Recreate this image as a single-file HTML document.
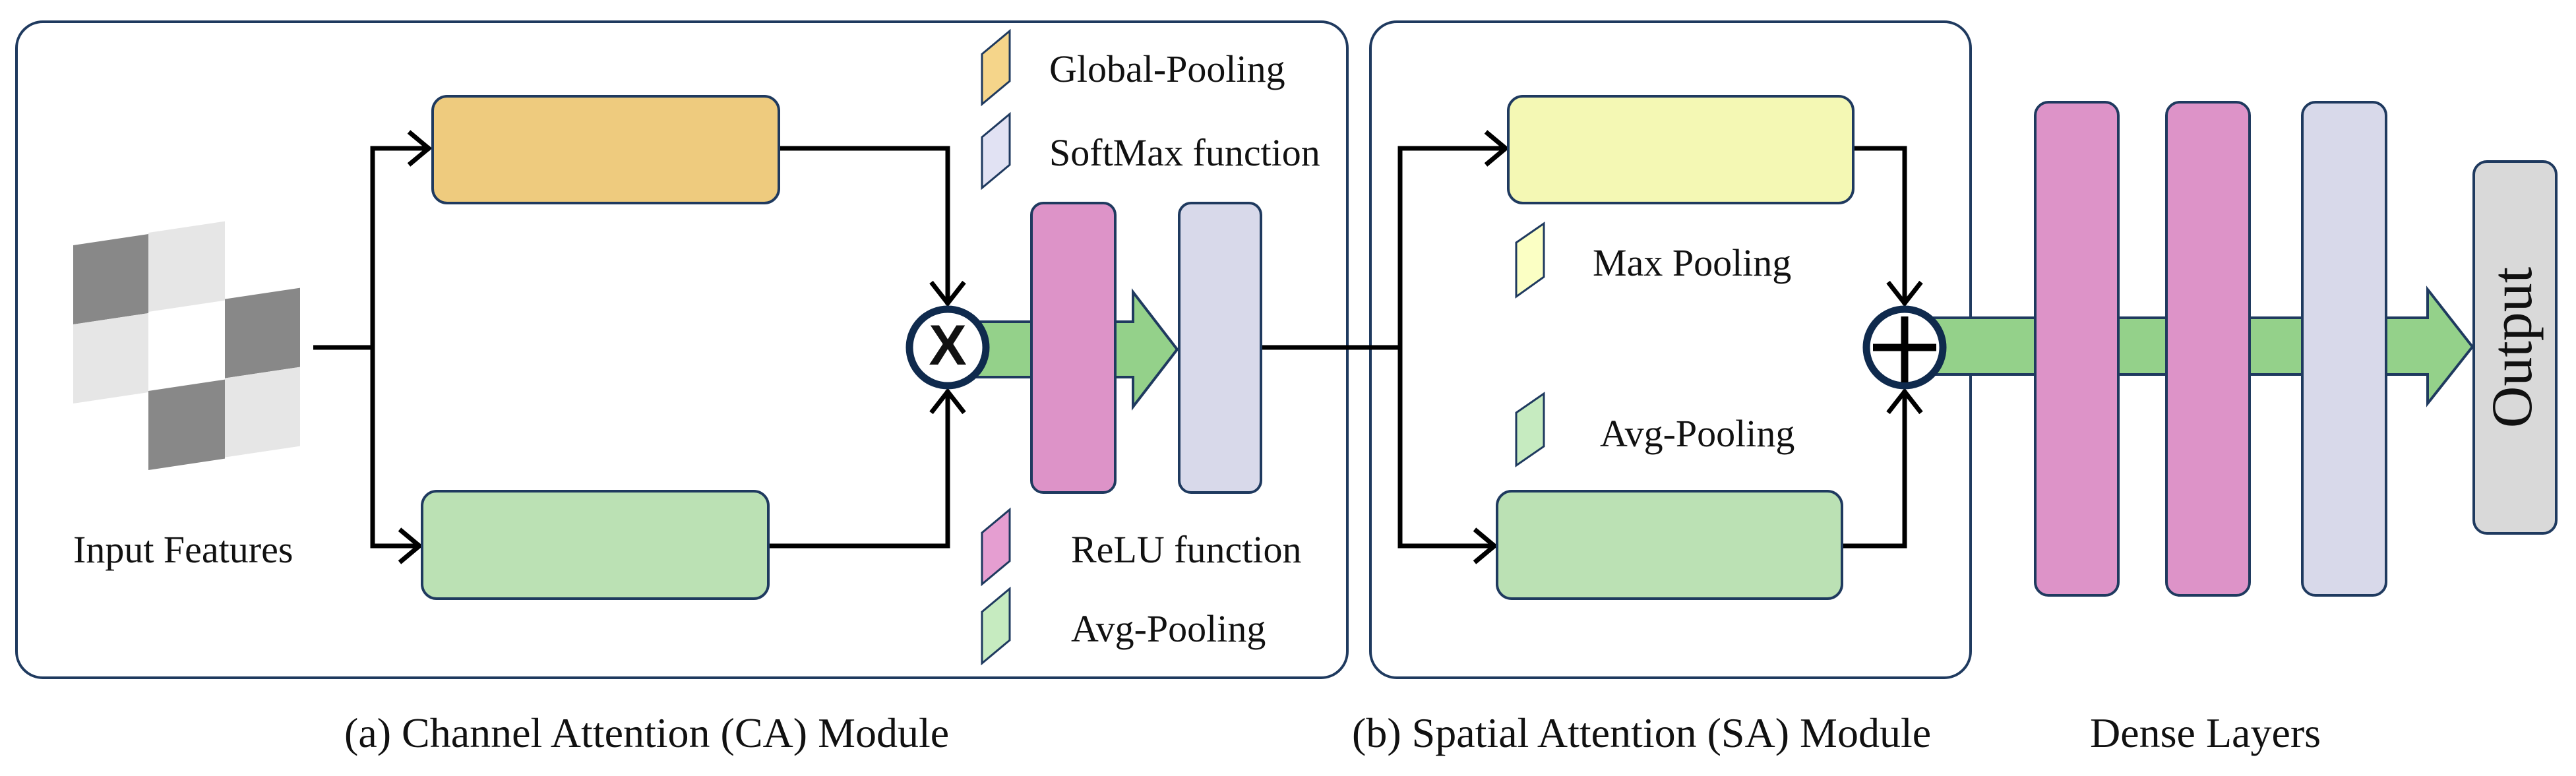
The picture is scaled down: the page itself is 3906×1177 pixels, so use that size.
<!DOCTYPE html>
<html><head><meta charset="utf-8"><style>
html,body{margin:0;padding:0;background:#fff;}
svg{display:block;}
text{font-family:"Liberation Serif",serif;fill:#111;}
</style></head><body>
<svg width="3906" height="1177" viewBox="0 0 3906 1177" xmlns="http://www.w3.org/2000/svg">
<!-- module boxes -->
<rect x="25" y="33" width="2018" height="995" rx="40" fill="#fff" stroke="#1f3a5f" stroke-width="4"/>
<rect x="2078" y="33" width="910" height="995" rx="40" fill="#fff" stroke="#1f3a5f" stroke-width="4"/>

<!-- checkerboard -->
<g transform="translate(111,0) skewY(-8.5) translate(-111,0)">
<rect x="111" y="372" width="114" height="120" fill="#888"/>
<rect x="111" y="492" width="114" height="120" fill="#e6e6e6"/>
<rect x="225" y="370" width="116" height="120" fill="#e6e6e6"/>
<rect x="225" y="610" width="116" height="120" fill="#888"/>
<rect x="341" y="488" width="114" height="120" fill="#888"/>
<rect x="341" y="608" width="114" height="120" fill="#e6e6e6"/>
</g>

<g fill="none" stroke="#000" stroke-width="7">
<!-- CA lines -->
<polyline points="475,527 565,527"/>
<polyline points="652,225 565,225 565,828 636,828"/>
<polyline points="1181,225 1437,225 1437,462"/>
<polyline points="1165,828 1437,828 1437,592"/>
<polyline points="620,200 650,225 620,250"/>
<polyline points="606,803 636,828 606,853"/>
<polyline points="1412,428 1437,460 1462,428"/>
<polyline points="1412,626 1437,594 1462,626"/>
<!-- link -->
<polyline points="1912,527 2123,527"/>
<polyline points="2283,225 2123,225 2123,828 2266,828"/>
<polyline points="2810,225 2888,225 2888,462"/>
<polyline points="2793,828 2888,828 2888,592"/>
<polyline points="2253,200 2283,225 2253,250"/>
<polyline points="2236,803 2266,828 2236,853"/>
<polyline points="2863,428 2888,460 2913,428"/>
<polyline points="2863,626 2888,594 2913,626"/>
</g>

<!-- CA boxes -->
<rect x="656" y="146" width="525" height="162" rx="22" fill="#eecb7e" stroke="#1f3a5f" stroke-width="4"/>
<rect x="640" y="745" width="525" height="163" rx="22" fill="#bbe1b4" stroke="#1f3a5f" stroke-width="4"/>

<!-- CA green arrow -->
<polygon points="1480,488 1718,488 1718,443 1785,530 1718,617 1718,572 1480,572" fill="#94d18a" stroke="#1f3a5f" stroke-width="4"/>
<circle cx="1437" cy="527" r="58" fill="#fff" stroke="#0f2a4d" stroke-width="11"/>
<text x="1437" y="553" text-anchor="middle" style="font-family:'Liberation Sans',sans-serif;font-weight:bold;font-size:86px;">X</text>
<rect x="1564" y="308" width="127" height="439" rx="18" fill="#dd93c8" stroke="#1f3a5f" stroke-width="4"/>
<rect x="1788" y="308" width="124" height="439" rx="18" fill="#d8d9ea" stroke="#1f3a5f" stroke-width="4"/>

<!-- SA boxes -->
<rect x="2287" y="146" width="523" height="162" rx="22" fill="#f4f8b4" stroke="#1f3a5f" stroke-width="4"/>
<rect x="2270" y="745" width="523" height="163" rx="22" fill="#bbe1b4" stroke="#1f3a5f" stroke-width="4"/>

<!-- SA green arrow -->
<polygon points="2930,482 3681,482 3681,439 3749,526 3681,612 3681,568 2930,568" fill="#94d18a" stroke="#1f3a5f" stroke-width="4"/>
<circle cx="2888" cy="527" r="58" fill="#fff" stroke="#0f2a4d" stroke-width="11"/>
<g stroke="#000" stroke-width="11"><line x1="2840" y1="527" x2="2936" y2="527"/><line x1="2888" y1="480" x2="2888" y2="580"/></g>

<!-- dense -->
<rect x="3086" y="155" width="126" height="748" rx="20" fill="#dd93c8" stroke="#1f3a5f" stroke-width="4"/>
<rect x="3285" y="155" width="126" height="748" rx="20" fill="#dd93c8" stroke="#1f3a5f" stroke-width="4"/>
<rect x="3491" y="155" width="127" height="748" rx="20" fill="#d8d9ea" stroke="#1f3a5f" stroke-width="4"/>
<rect x="3751" y="245" width="125" height="564" rx="20" fill="#d9d9d9" stroke="#1f3a5f" stroke-width="4"/>
<text transform="translate(3838,527) rotate(-90)" text-anchor="middle" style="font-size:88px;">Output</text>

<!-- legend icons -->
<g stroke="#1f3a5f" stroke-width="3">
<polygon points="1489,82 1531,47 1531,123 1489,158" fill="#f5d58a"/>
<polygon points="1489,208 1531,173 1531,250 1489,285" fill="#e1e2f3"/>
<polygon points="1489,808 1531,773 1531,851 1489,886" fill="#e59ed1"/>
<polygon points="1489,928 1531,893 1531,971 1489,1006" fill="#c6ebc0"/>
<polygon points="2299,368 2341,339 2341,420 2299,450" fill="#fbffc4"/>
<polygon points="2299,626 2341,597 2341,677 2299,706" fill="#c6ebc0"/>
</g>

<g style="font-size:58px;">
<text x="1591" y="124">Global-Pooling</text>
<text x="1591" y="251">SoftMax function</text>
<text x="1624" y="853">ReLU function</text>
<text x="1624" y="973">Avg-Pooling</text>
<text x="111" y="853">Input Features</text>
<text x="2415" y="418">Max Pooling</text>
<text x="2426" y="677">Avg-Pooling</text>
</g>
<g style="font-size:64px;">
<text x="522" y="1133">(a) Channel Attention (CA) Module</text>
<text x="2050" y="1133">(b) Spatial Attention (SA) Module</text>
<text x="3169" y="1133">Dense Layers</text>
</g>
</svg>
</body></html>
